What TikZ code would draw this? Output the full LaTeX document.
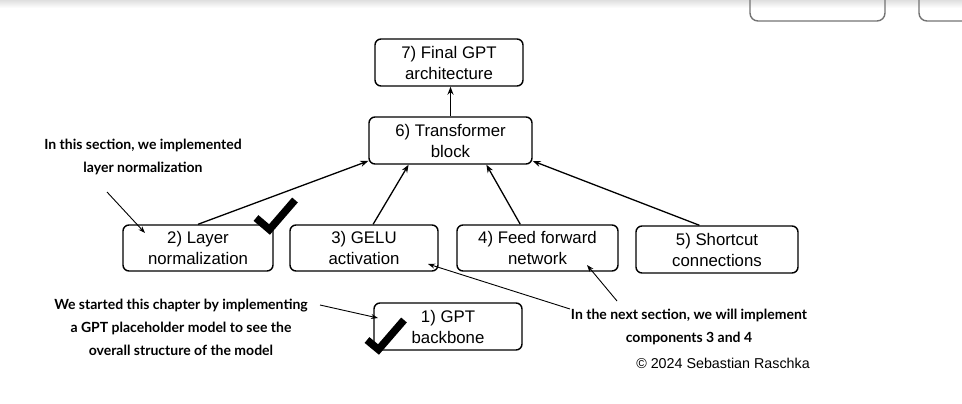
\documentclass[tikz,border=0pt]{standalone}
\usepackage{fontspec}
\setmainfont{Liberation Sans}
\newfontfamily\annfont{Lato}
\usetikzlibrary{arrows.meta,calc}
\begin{document}
\begin{tikzpicture}[x=1pt,y=-1pt,
  box/.style={draw,line width=1.4pt,rounded corners=6pt,align=center,font=\fontsize{16.8}{21}\selectfont,inner sep=0pt},
  conn/.style={line width=1.3pt,-{Stealth[length=8pt,width=6pt]}},
  ann/.style={align=center,font=\annfont\bfseries\fontsize{14}{23}\selectfont,inner sep=0pt},
  annarrow/.style={line width=0.9pt,-{Stealth[length=7pt,width=5pt]}},
  check/.style={line width=7.5pt,line join=miter,line cap=butt}]
\useasboundingbox (0,0) rectangle (962,404);
% top browser band
\shade[top color=gray!25,bottom color=white] (0,0) rectangle (962,8);
\draw[line width=1.4pt,gray!90!black,rounded corners=8pt] (750,-20) -- (750,21) -- (885,21) -- (885,-20);
\draw[line width=1.4pt,gray!90!black,rounded corners=8pt] (919,-20) -- (919,21) -- (975,21);
% boxes
\node[box,minimum width=148pt,minimum height=47pt] (b7) at (449,62.5) {7) Final GPT\\architecture};
\node[box,minimum width=163pt,minimum height=47pt] (b6) at (450.5,140.5) {6) Transformer\\block};
\node[box,minimum width=150pt,minimum height=46pt] (b2) at (198,248) {2) Layer\\normalization};
\node[box,minimum width=148pt,minimum height=46pt] (b3) at (364,248) {3) GELU\\activation};
\node[box,minimum width=161pt,minimum height=46pt] (b4) at (537.5,248) {4) Feed forward\\network};
\node[box,minimum width=162pt,minimum height=47pt] (b5) at (717,249.5) {5) Shortcut\\connections};
\node[box,minimum width=148pt,minimum height=47pt] (b1) at (448,326.5) {1) GPT\\backbone};
% main connectors
\draw[conn] (b6.north) -- (b6.north |- b7.south);
\draw[conn] (b2.north) -- (b6.194);
\draw[conn] (b3.69) -- (b6.210);
\draw[conn] (b4.126) -- (b6.-34);
\draw[conn] (b5.126) -- (b6.-14);
% annotations
\node[ann] (a1) at (143,156.5) {In this section, we implemented\\layer normalization};
\node[ann] (a2) at (181,327) {We started this chapter by implementing\\a GPT placeholder model to see the\\overall structure of the model};
\node[ann] (a3) at (689,326.5) {In the next section, we will implement\\components 3 and 4};
\node[font=\fontsize{14.3}{17}\selectfont,inner sep=0pt] (cr) at (723,363) {© 2024 Sebastian Raschka};
\coordinate (s1) at (107,192); \coordinate (e1) at (145,233);
\coordinate (s2) at (320,305); \coordinate (e2) at (378,318);
\coordinate (s3) at (570,309); \coordinate (e3) at (428,264);
\coordinate (s4) at (617,301); \coordinate (e4) at (587,265);
\draw[annarrow] (s1) -- (e1);
\draw[annarrow] (s2) -- (e2);
\draw[annarrow] (s3) -- (e3);
\draw[annarrow] (s4) -- (e4);
% checkmarks
\draw[check] (256,218) -- (269.5,229.5) -- (295,200);
\draw[check] (367,340) -- (378.5,349.5) -- (404,320);
\end{tikzpicture}
\end{document}
